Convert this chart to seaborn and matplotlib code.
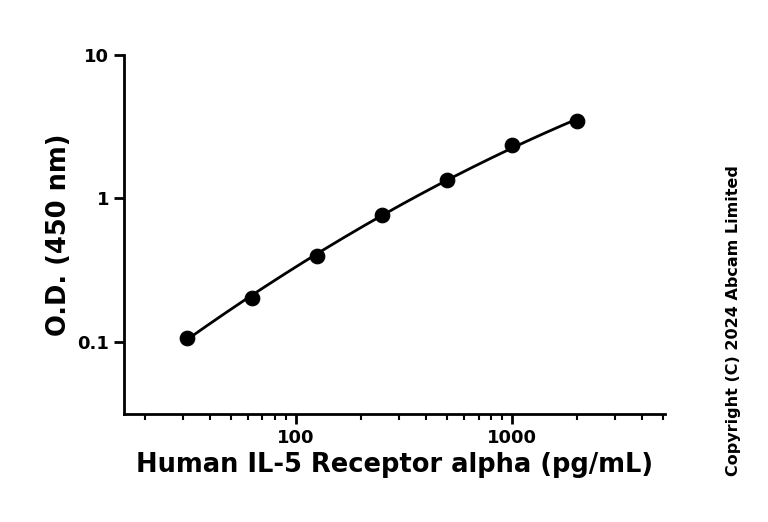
import numpy as np
import seaborn as sns
import matplotlib.pyplot as plt
from matplotlib.ticker import LogLocator, NullFormatter, FixedLocator

# Standard curve data
conc = [31.25, 62.5, 125, 250, 500, 1000, 2000]
od = [0.107, 0.203, 0.40, 0.77, 1.35, 2.35, 3.45]

sns.set_style('ticks')
plt.rcParams['font.family'] = ['DejaVu Sans']
plt.rcParams['font.weight'] = 'bold'
plt.rcParams['text.color'] = 'black'
plt.rcParams['axes.labelcolor'] = 'black'
plt.rcParams['xtick.color'] = 'black'
plt.rcParams['ytick.color'] = 'black'
plt.rcParams['axes.edgecolor'] = 'black'

fig = plt.figure(figsize=(7.68, 5.22), dpi=100)
ax = fig.add_axes([0.161, 0.207, 0.705, 0.688])

# smooth fit in log-log space
lx, ly = np.log10(conc), np.log10(od)
coef = np.polyfit(lx, ly, 2)
xs = np.linspace(lx[0], lx[-1], 200)
ax.plot(10 ** xs, 10 ** np.polyval(coef, xs), color='black', lw=2)
sns.scatterplot(x=conc, y=od, ax=ax, color='black', s=110, edgecolor='black', zorder=3)

ax.set_xscale('log')
ax.set_yscale('log')
ax.set_xlim(16, 5100)
ax.set_ylim(0.0316, 10)
ax.xaxis.set_major_locator(FixedLocator([100, 1000]))
ax.xaxis.set_minor_locator(LogLocator(base=10, subs=np.arange(2, 10)))
ax.xaxis.set_minor_formatter(NullFormatter())
ax.yaxis.set_major_locator(FixedLocator([0.1, 1, 10]))
ax.yaxis.set_minor_locator(FixedLocator([]))
ax.set_yticklabels(['0.1', '1', '10'])
ax.set_xticklabels(['100', '1000'])
for s in ['left', 'bottom']:
    ax.spines[s].set_linewidth(2)
sns.despine(ax=ax)
ax.tick_params(which='major', width=2, length=7, labelsize=13)
ax.tick_params(which='minor', width=1.5, length=4)

ax.set_xlabel('Human IL-5 Receptor alpha (pg/mL)', fontsize=18.5, fontweight='bold')
ax.set_ylabel('O.D. (450 nm)', fontsize=18.5, fontweight='bold')

fig.text(0.955, 0.385, 'Copyright (C) 2024 Abcam Limited', rotation=90,
         ha='center', va='center', fontsize=11.5, fontweight='bold')

fig.savefig('out.png', dpi=100)
